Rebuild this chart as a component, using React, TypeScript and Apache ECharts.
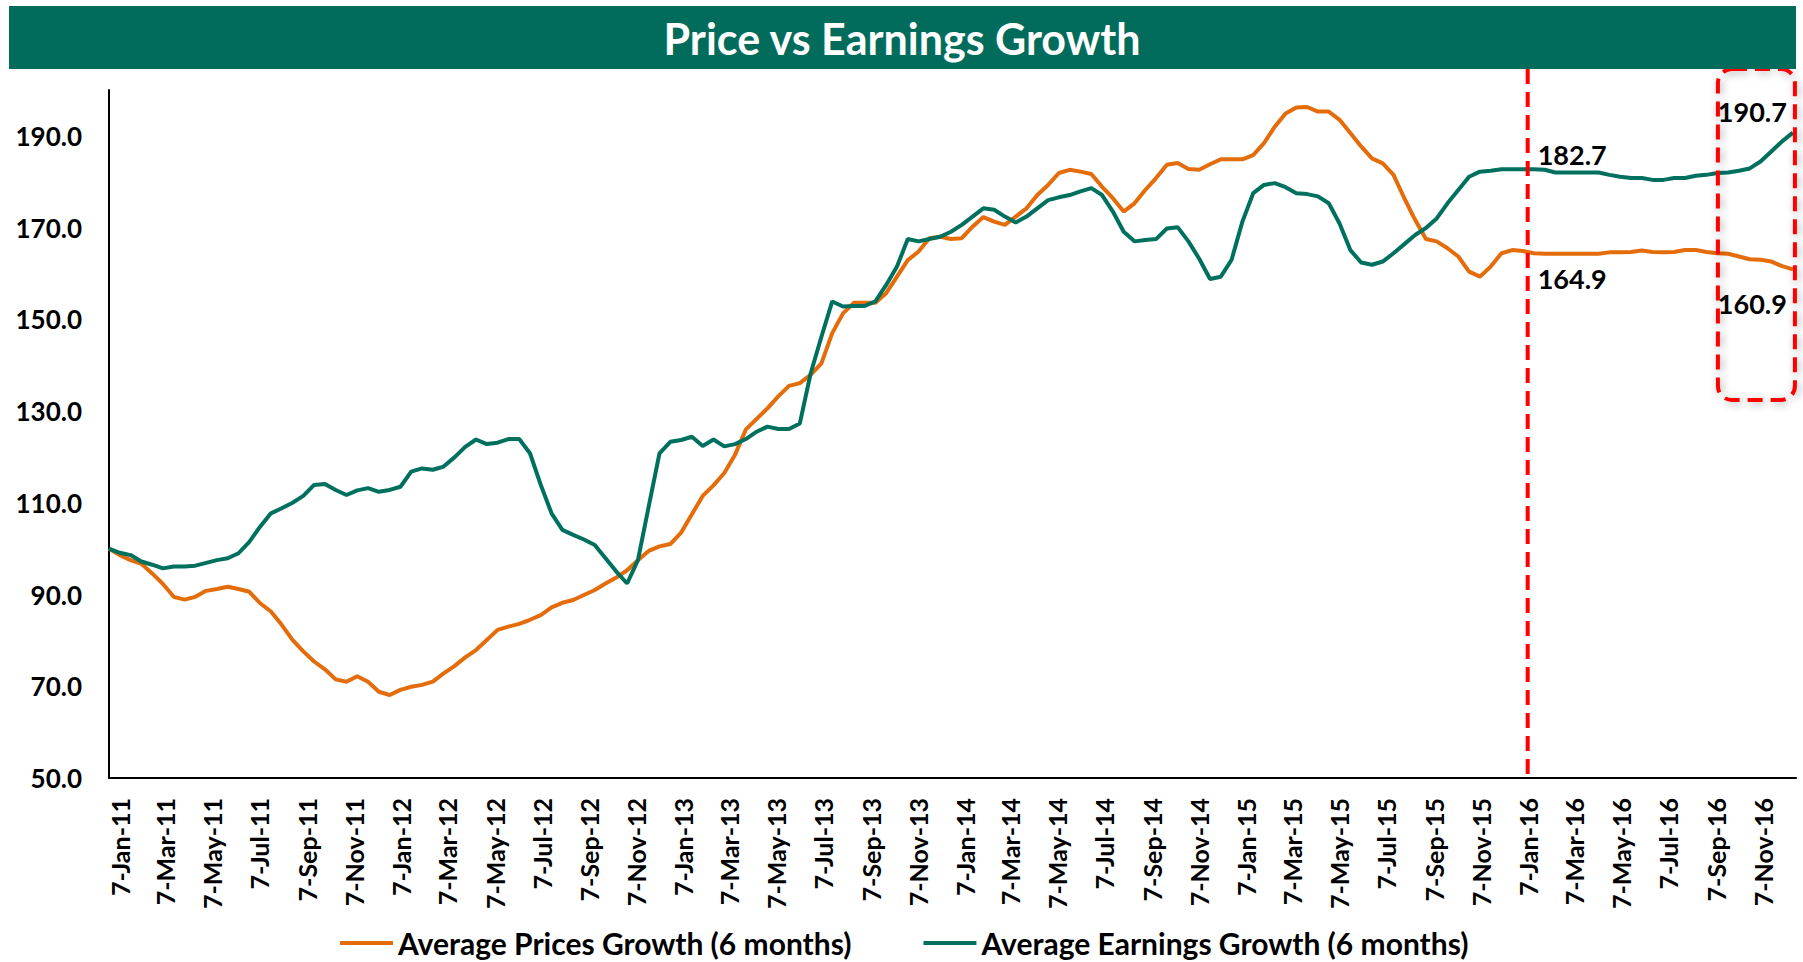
import React, { useEffect, useRef } from 'react';
import * as echarts from 'echarts';

const TITLE = 'Price vs Earnings Growth';
const SERIES_NAMES = ['Average Prices Growth (6 months)', 'Average Earnings Growth (6 months)'];
const SAMPLE_START = '2010-12-24';
const SAMPLE_STEP_DAYS = 14;
const AXIS_END = '2016-12-20';
const MONTHS = ['Jan', 'Feb', 'Mar', 'Apr', 'May', 'Jun', 'Jul', 'Aug', 'Sep', 'Oct', 'Nov', 'Dec'];
const LABEL_MONTHS = ['Jan', 'Mar', 'May', 'Jul', 'Sep', 'Nov'];
const LABEL_DAY = 7;
const Y_TICKS = [50, 70, 90, 110, 130, 150, 170, 190];

// Average Prices Growth (6 months), sampled every 14 days from 24-Dec-10
const priceGrowth = [
  100.0, 98.6, 97.5, 96.7, 94.6, 92.3, 89.5, 88.9, 89.5, 90.8,
  91.2, 91.7, 91.2, 90.6, 88.1, 86.3, 83.4, 80.1, 77.6, 75.4,
  73.7, 71.5, 71.0, 72.2, 71.0, 68.8, 68.1, 69.2, 69.9, 70.3,
  71.0, 72.8, 74.4, 76.3, 77.9, 80.1, 82.3, 83.0, 83.6, 84.5,
  85.5, 87.2, 88.2, 88.8, 89.9, 91.0, 92.4, 93.7, 95.3, 97.5,
  99.5, 100.5, 101.0, 103.5, 107.5, 111.5, 113.8, 116.5, 120.5, 126.0,
  128.3, 130.6, 133.2, 135.5, 136.1, 137.9, 140.4, 147.0, 151.3, 153.6,
  153.6, 153.6, 155.7, 159.3, 162.9, 164.8, 167.7, 168.0, 167.5, 167.7,
  170.2, 172.3, 171.3, 170.6, 172.4, 174.2, 177.1, 179.3, 181.9, 182.6,
  182.2, 181.7, 178.9, 176.4, 173.5, 175.3, 178.2, 180.8, 183.7, 184.1,
  182.8, 182.6, 183.8, 184.9, 184.9, 184.9, 185.8, 188.4, 192.0, 194.9,
  196.2, 196.3, 195.3, 195.3, 193.5, 190.6, 187.7, 185.1, 184.0, 181.5,
  176.4, 171.7, 167.5, 167.0, 165.5, 163.7, 160.4, 159.3, 161.5, 164.4,
  165.1, 164.9, 164.4, 164.3, 164.3, 164.3, 164.3, 164.3, 164.3, 164.6,
  164.6, 164.7, 165.0, 164.7, 164.6, 164.7, 165.1, 165.1, 164.7, 164.4,
  164.3, 163.7, 163.1, 163.0, 162.6, 161.6, 160.9,
];

// Average Earnings Growth (6 months), same dates
const earningsGrowth = [
  100.0, 99.1, 98.6, 97.2, 96.5, 95.7, 96.1, 96.1, 96.3, 96.9,
  97.5, 97.9, 99.0, 101.5, 104.8, 107.7, 108.8, 110.0, 111.5, 113.9,
  114.1, 112.8, 111.7, 112.7, 113.2, 112.4, 112.8, 113.5, 116.8, 117.5,
  117.2, 117.9, 119.9, 122.2, 123.8, 122.8, 123.1, 123.9, 123.9, 120.8,
  113.9, 107.7, 104.1, 103.0, 102.0, 100.8, 97.9, 95.0, 92.4, 97.5,
  109.2, 120.8, 123.3, 123.7, 124.4, 122.4, 123.8, 122.3, 122.8, 123.9,
  125.5, 126.6, 126.1, 126.1, 127.3, 138.2, 146.2, 153.9, 152.8, 152.9,
  152.9, 153.9, 157.5, 161.5, 167.5, 167.0, 167.5, 168.0, 169.1, 170.6,
  172.4, 174.2, 173.9, 172.4, 171.1, 172.4, 174.2, 176.0, 176.6, 177.1,
  177.9, 178.6, 177.1, 173.5, 169.1, 167.0, 167.3, 167.5, 169.8, 170.1,
  167.0, 163.2, 158.8, 159.3, 163.0, 171.3, 177.5, 179.3, 179.7, 178.8,
  177.5, 177.3, 176.8, 175.3, 170.9, 165.1, 162.4, 161.9, 162.6, 164.4,
  166.4, 168.4, 169.9, 172.0, 175.3, 178.2, 181.1, 182.2, 182.4, 182.7,
  182.7, 182.7, 182.7, 182.6, 182.0, 182.0, 182.0, 182.0, 182.0, 181.5,
  181.1, 180.8, 180.8, 180.4, 180.4, 180.8, 180.8, 181.3, 181.5, 181.9,
  182.0, 182.4, 182.9, 184.4, 186.6, 188.8, 190.7,
];

// Callout values
const MARKER_DATE = '7-Jan-16';
const markerEarnings = 182.7;
const markerPrice = 164.9;
const lastEarnings = 190.7;
const lastPrice = 160.9;

const ORANGE = '#E46C0A';
const GREEN = '#00705E';
const BAR = '#026C5C';
const FONT = 'Lato';

function fmtDate(d: Date): string {
  return `${d.getUTCDate()}-${MONTHS[d.getUTCMonth()]}-${String(d.getUTCFullYear()).slice(2)}`;
}

function buildCategories(): string[] {
  const out: string[] = [];
  const start = Date.parse(SAMPLE_START + 'T00:00:00Z');
  const end = Date.parse(AXIS_END + 'T00:00:00Z');
  for (let t = start; t <= end; t += 86400000) out.push(fmtDate(new Date(t)));
  return out;
}

function isLabelDay(v: string): boolean {
  const parts = v.split('-');
  return Number(parts[0]) === LABEL_DAY && LABEL_MONTHS.includes(parts[1]);
}

export default function App() {
  const ref = useRef<HTMLDivElement>(null);

  useEffect(() => {
    if (!ref.current) return;
    const chart = echarts.init(ref.current, undefined, { renderer: 'svg' });
    const categories = buildCategories();
    const toPairs = (arr: number[]) => arr.map((v, i) => [i * SAMPLE_STEP_DAYS, v]);
    const markerIdx = categories.indexOf(MARKER_DATE);
    const lastIdx = (priceGrowth.length - 1) * SAMPLE_STEP_DAYS;

    const labelStyle = {
      show: true,
      fontFamily: FONT,
      fontWeight: 'bold',
      fontSize: 27,
      color: '#000',
      formatter: (p: any) => Number(p.value).toFixed(1),
    };

    const option: any = {
      animation: false,
      backgroundColor: '#fff',
      grid: { left: 109, right: 7, top: 90, bottom: 184, containLabel: false },
      legend: {
        data: SERIES_NAMES,
        left: 340,
        top: 926,
        padding: 0,
        icon: 'rect',
        itemWidth: 53,
        itemHeight: 4,
        itemGap: 72,
        textStyle: { fontFamily: FONT, fontWeight: 'bold', fontSize: 30, color: '#000', lineHeight: 34 },
      },
      xAxis: {
        type: 'category',
        data: categories,
        boundaryGap: false,
        axisLine: { show: true, lineStyle: { color: '#000', width: 2 } },
        axisTick: { show: false },
        splitLine: { show: false },
        axisLabel: {
          interval: (_i: number, v: string) => isLabelDay(v),
          rotate: 90,
          margin: 20,
          fontFamily: FONT,
          fontWeight: 'bold',
          fontSize: 25,
          color: '#000',
        },
      },
      yAxis: {
        type: 'value',
        min: 50,
        max: 200,
        interval: 10,
        axisLine: { show: true, lineStyle: { color: '#000', width: 2 } },
        axisTick: { show: false },
        splitLine: { show: false },
        axisLabel: {
          margin: 27,
          fontFamily: FONT,
          fontWeight: 'bold',
          fontSize: 26,
          color: '#000',
          formatter: (v: number) => (Y_TICKS.includes(v) ? v.toFixed(1) : ''),
        },
      },
      series: [
        {
          name: SERIES_NAMES[0],
          type: 'line',
          data: toPairs(priceGrowth),
          showSymbol: false,
          symbol: 'none',
          lineStyle: { color: ORANGE, width: 4 },
          itemStyle: { color: ORANGE },
          z: 2,
          markPoint: {
            symbol: 'circle',
            symbolSize: 0,
            silent: true,
            data: [
              { coord: [markerIdx, markerPrice], value: markerPrice, label: { ...labelStyle, position: [10, 28], align: 'left', verticalAlign: 'middle' } },
              { coord: [lastIdx, lastPrice], value: lastPrice, label: { ...labelStyle, position: [-6, 34], align: 'right', verticalAlign: 'middle' } },
            ],
          },
        },
        {
          name: SERIES_NAMES[1],
          type: 'line',
          data: toPairs(earningsGrowth),
          showSymbol: false,
          symbol: 'none',
          lineStyle: { color: GREEN, width: 4 },
          itemStyle: { color: GREEN },
          z: 3,
          markPoint: {
            symbol: 'circle',
            symbolSize: 0,
            silent: true,
            data: [
              { coord: [markerIdx, markerEarnings], value: markerEarnings, label: { ...labelStyle, position: [10, -15], align: 'left', verticalAlign: 'middle' } },
              { coord: [lastIdx, lastEarnings], value: lastEarnings, label: { ...labelStyle, position: [-6, -21], align: 'right', verticalAlign: 'middle' } },
            ],
          },
        },
      ],
    };

    chart.setOption(option);

    const xMarker = chart.convertToPixel({ xAxisIndex: 0 }, markerIdx) as number;
    const xLast = chart.convertToPixel({ xAxisIndex: 0 }, lastIdx) as number;
    const yBottom = chart.convertToPixel({ yAxisIndex: 0 }, 50) as number;

    chart.setOption({
      graphic: [
        {
          id: 'titlebar',
          type: 'rect',
          shape: { x: 9, y: 6, width: 1787, height: 63 },
          style: { fill: BAR },
          z: 50,
          silent: true,
        },
        {
          id: 'titletext',
          type: 'text',
          x: 902,
          y: 38,
          style: {
            text: TITLE,
            fill: '#fff',
            font: `bold 43px ${FONT}`,
            textAlign: 'center',
            textVerticalAlign: 'middle',
          },
          z: 51,
          silent: true,
        },
        {
          id: 'vline',
          type: 'line',
          shape: { x1: xMarker, y1: 69, x2: xMarker, y2: yBottom },
          style: { stroke: '#FF0000', lineWidth: 4, lineDash: [15, 8] },
          z: 40,
          silent: true,
        },
        {
          id: 'box',
          type: 'rect',
          shape: { x: xLast + 2 - 77, y: 69, width: 77, height: 331, r: 14 },
          style: {
            fill: 'none',
            stroke: '#FF0000',
            lineWidth: 4,
            lineDash: [15, 8],
            shadowBlur: 8,
            shadowColor: 'rgba(0,0,0,0.35)',
            shadowOffsetX: 2,
            shadowOffsetY: 2,
          },
          z: 40,
          silent: true,
        },
      ],
    });

    return () => chart.dispose();
  }, []);

  return (
    <div
      ref={ref}
      style={{ position: 'fixed', left: 0, top: 0, width: 1803, height: 962, background: '#fff' }}
    />
  );
}
